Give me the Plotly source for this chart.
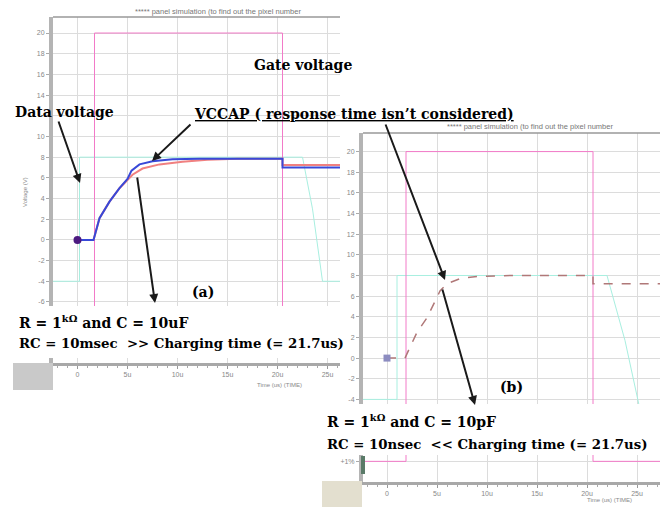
import plotly.graph_objects as go

W, H = 660, 507
def px(x): return x / W
def py(y): return 1 - y / H

# ---------------- data (panel a: RC = 10 msec) ----------------
t_a_blue = [0, 1.6, 2.2, 3.2, 4.2, 5.0, 5.4, 6.2, 7.5, 9.5, 12.2, 15, 20.5, 20.5, 26.3]
v_a_blue = [0, 0, 2.1, 3.7, 5.0, 5.9, 6.7, 7.3, 7.6, 7.8, 7.85, 7.85, 7.85, 7.0, 7.0]
t_a_red = [0, 1.6, 2.2, 3.2, 4.2, 5.0, 5.5, 6.5, 8.2, 10.5, 13, 16, 20.5, 20.5, 26.3]
v_a_red = [0, 0, 2.1, 3.7, 5.0, 5.8, 6.3, 6.9, 7.3, 7.55, 7.75, 7.85, 7.85, 7.25, 7.25]
t_a_gate = [-2.45, 1.7, 1.7, 20.5, 20.5, 26.3]
v_a_gate = [-10, -10, 20, 20, -10, -10]
t_a_data = [-2.45, 0.2, 0.2, 22.5, 23.5, 24.5, 26.3]
v_a_data = [-4, -4, 8, 8, 3, -4, -4]

# ---------------- data (panel b: RC = 10 nsec) ----------------
t_b_vc = [0, 1.8, 2.3, 3.0, 4.0, 5.3, 6.0, 7.3, 9.0, 12.3, 20.6, 20.6, 27.3]
v_b_vc = [0, 0, 1.05, 2.5, 3.9, 6.5, 7.2, 7.7, 7.9, 8.0, 8.0, 7.2, 7.2]
t_b_gate = [-2.4, 1.9, 1.9, 20.6, 20.6, 27.3]
v_b_gate = [-10, -10, 20, 20, -10, -10]
t_b_data = [-2.4, 1.0, 1.0, 22.0, 23.8, 25.3, 27.3]
v_b_data = [-4, -4, 8, 8, 1.7, -5, -5]

x_ticks = [0, 5, 10, 15, 20, 25]
x_ticktext = ["0", "5u", "10u", "15u", "20u", "25u"]
y_ticks_a = [-6, -4, -2, 0, 2, 4, 6, 8, 10, 12, 14, 16, 18, 20]
y_ticktext_a = ["-6", "-4", "-2", "0", "2", "4", "6", "8", "10", "", "14", "16", "18", "20"]
y_ticks_b = [-10, -4, -2, 0, 2, 4, 6, 8, 10, 12, 14, 16, 18, 20]
y_ticktext_b = ["+1%"] + [str(v) for v in y_ticks_b[1:]]

fig = go.Figure()
GATE = "#f27ac8"
DATA = "#a8efe0"

# panel a
fig.add_trace(go.Scatter(x=t_a_data, y=v_a_data, mode="lines", line=dict(color=DATA, width=1), xaxis="x", yaxis="y"))
fig.add_trace(go.Scatter(x=t_a_gate, y=v_a_gate, mode="lines", line=dict(color=GATE, width=1), xaxis="x", yaxis="y"))
fig.add_trace(go.Scatter(x=t_a_red, y=v_a_red, mode="lines", line=dict(color="#f08080", width=2), xaxis="x", yaxis="y"))
fig.add_trace(go.Scatter(x=t_a_blue, y=v_a_blue, mode="lines", line=dict(color="#3848d8", width=2), xaxis="x", yaxis="y"))
fig.add_trace(go.Scatter(x=[0], y=[0], mode="markers", marker=dict(color="#4b1a80", size=8), xaxis="x", yaxis="y"))

# panel b
fig.add_trace(go.Scatter(x=t_b_data, y=v_b_data, mode="lines", line=dict(color=DATA, width=1), xaxis="x2", yaxis="y2"))
fig.add_trace(go.Scatter(x=t_b_gate, y=v_b_gate, mode="lines", line=dict(color=GATE, width=1), xaxis="x2", yaxis="y2"))
fig.add_trace(go.Scatter(x=t_b_vc, y=v_b_vc, mode="lines", line=dict(color="#b07878", width=1.5, dash="dash"), xaxis="x2", yaxis="y2"))
fig.add_trace(go.Scatter(x=[0], y=[0], mode="markers", marker=dict(color="#8c8cc0", size=7, symbol="square"), xaxis="x2", yaxis="y2"))

tickfont = dict(family="Liberation Sans", size=7, color="#888")
xcommon = dict(tickvals=x_ticks, ticktext=x_ticktext, showgrid=True, gridcolor="#dcdcdc", gridwidth=1,
               showline=True, linecolor="#a8a8a8", linewidth=3, ticks="outside", ticklen=3, tickcolor="#999",
               minor=dict(dtick=1, ticks="outside", ticklen=2, tickcolor="#aaa", showgrid=False),
               tickfont=tickfont, zeroline=False)
ycommon = dict(showgrid=True, gridcolor="#dcdcdc", gridwidth=1, showline=True, linecolor="#b4b4b4", linewidth=4,
               ticks="outside", ticklen=3, tickcolor="#aaa", tickfont=tickfont, zeroline=False)

fig.update_layout(
    width=W, height=H, margin=dict(l=0, r=0, t=0, b=0),
    paper_bgcolor="white", plot_bgcolor="white", showlegend=False,
    xaxis=dict(domain=[px(53), px(340)], range=[-2.45, 26.25], anchor="y", **xcommon),
    yaxis=dict(domain=[py(363), py(17)], range=[-11.9, 21.55], anchor="x", tickvals=y_ticks_a,
               ticktext=y_ticktext_a, **ycommon),
    xaxis2=dict(domain=[px(363), 1.0], range=[-2.4, 27.3], anchor="y2", **xcommon),
    yaxis2=dict(domain=[py(482), py(133)], range=[-12.0, 21.8], anchor="x2", tickvals=y_ticks_b,
                ticktext=y_ticktext_b, **ycommon),
)

shapes = [
    dict(type="rect", xref="paper", yref="paper", x0=0, x1=px(341), y0=py(358), y1=py(306),
         fillcolor="white", line=dict(width=0), layer="above"),
    dict(type="rect", xref="paper", yref="paper", x0=px(320), x1=1.0, y0=py(455), y1=py(404),
         fillcolor="white", line=dict(width=0), layer="above"),
    dict(type="line", xref="paper", yref="paper", x0=px(53), x1=px(340), y0=py(17), y1=py(17),
         line=dict(color="#999", width=1.5), layer="above"),
    dict(type="line", xref="paper", yref="paper", x0=px(363), x1=1.0, y0=py(133), y1=py(133),
         line=dict(color="#999", width=1.5), layer="above"),
    dict(type="rect", xref="paper", yref="paper", x0=px(13), x1=px(53), y0=py(390), y1=py(363),
         fillcolor="#c9c9c9", line=dict(width=0), layer="above"),
    dict(type="rect", xref="paper", yref="paper", x0=px(322), x1=px(362), y0=0, y1=py(481),
         fillcolor="#e3dfcf", line=dict(width=0), layer="above"),
    dict(type="rect", xref="paper", yref="paper", x0=px(361), x1=px(365), y0=py(474), y1=py(456),
         fillcolor="#5a7a68", line=dict(width=0), layer="above"),
]
fig.update_layout(shapes=shapes)

BIG = dict(family="DejaVu Serif", size=14, color="black", weight="bold")
MID = dict(family="DejaVu Serif", size=13.3, color="black", weight="bold")
def txt(x, y, s, font=BIG, **kw):
    d = dict(x=px(x), y=py(y), xref="paper", yref="paper", text=s, showarrow=False,
             xanchor="left", yanchor="middle", font=font)
    d.update(kw)
    return d

def arrow(hx, hy, tx, ty, head=2):
    return dict(x=px(hx), y=py(hy), xref="paper", yref="paper", ax=tx - hx, ay=ty - hy,
                axref="pixel", ayref="pixel", showarrow=True, arrowhead=head, arrowsize=0.9,
                arrowwidth=2, arrowcolor="#1a1a1a", text="")

small = dict(family="Liberation Sans", size=7.5, color="#777")
tiny = dict(family="Liberation Sans", size=6, color="#888")
ann = [
    txt(133, 11, "***** panel simulation (to find out the pixel number", font=small),
    txt(445, 127, "***** panel simulation (to find out the pixel number", font=small),
    txt(252, 65, "Gate voltage"),
    txt(13, 112, "Data voltage"),
    txt(192, 114, "VCCAP ( response time isn’t considered)",
        font=dict(family="DejaVu Serif", size=14, color="black", weight="bold", lineposition="under")),
    txt(190, 292, "(a)"),
    txt(498, 387, "(b)"),
    txt(17, 322, "R = 1<sup>kΩ</sup> and C = 10uF"),
    txt(17, 343, "RC = 10msec  >> Charging time (= 21.7us)", font=MID),
    txt(325, 421, "R = 1<sup>kΩ</sup> and C = 10pF"),
    txt(325, 444, "RC = 10nsec  << Charging time (= 21.7us)", font=MID),
    txt(255, 385, "Time (us) (TIME)", font=tiny),
    txt(585, 500, "Time (us) (TIME)", font=tiny),
    dict(x=px(20), y=py(192), xref="paper", yref="paper", text="Voltage (V)", showarrow=False,
         textangle=-90, font=tiny),
    arrow(80, 183, 58, 120),
    arrow(152, 161, 192, 123),
    arrow(445, 280, 385, 123),
    arrow(155, 303, 137, 176),
    arrow(475, 405, 442, 288),
]
fig.update_layout(annotations=ann)

fig.write_html("out.html")
